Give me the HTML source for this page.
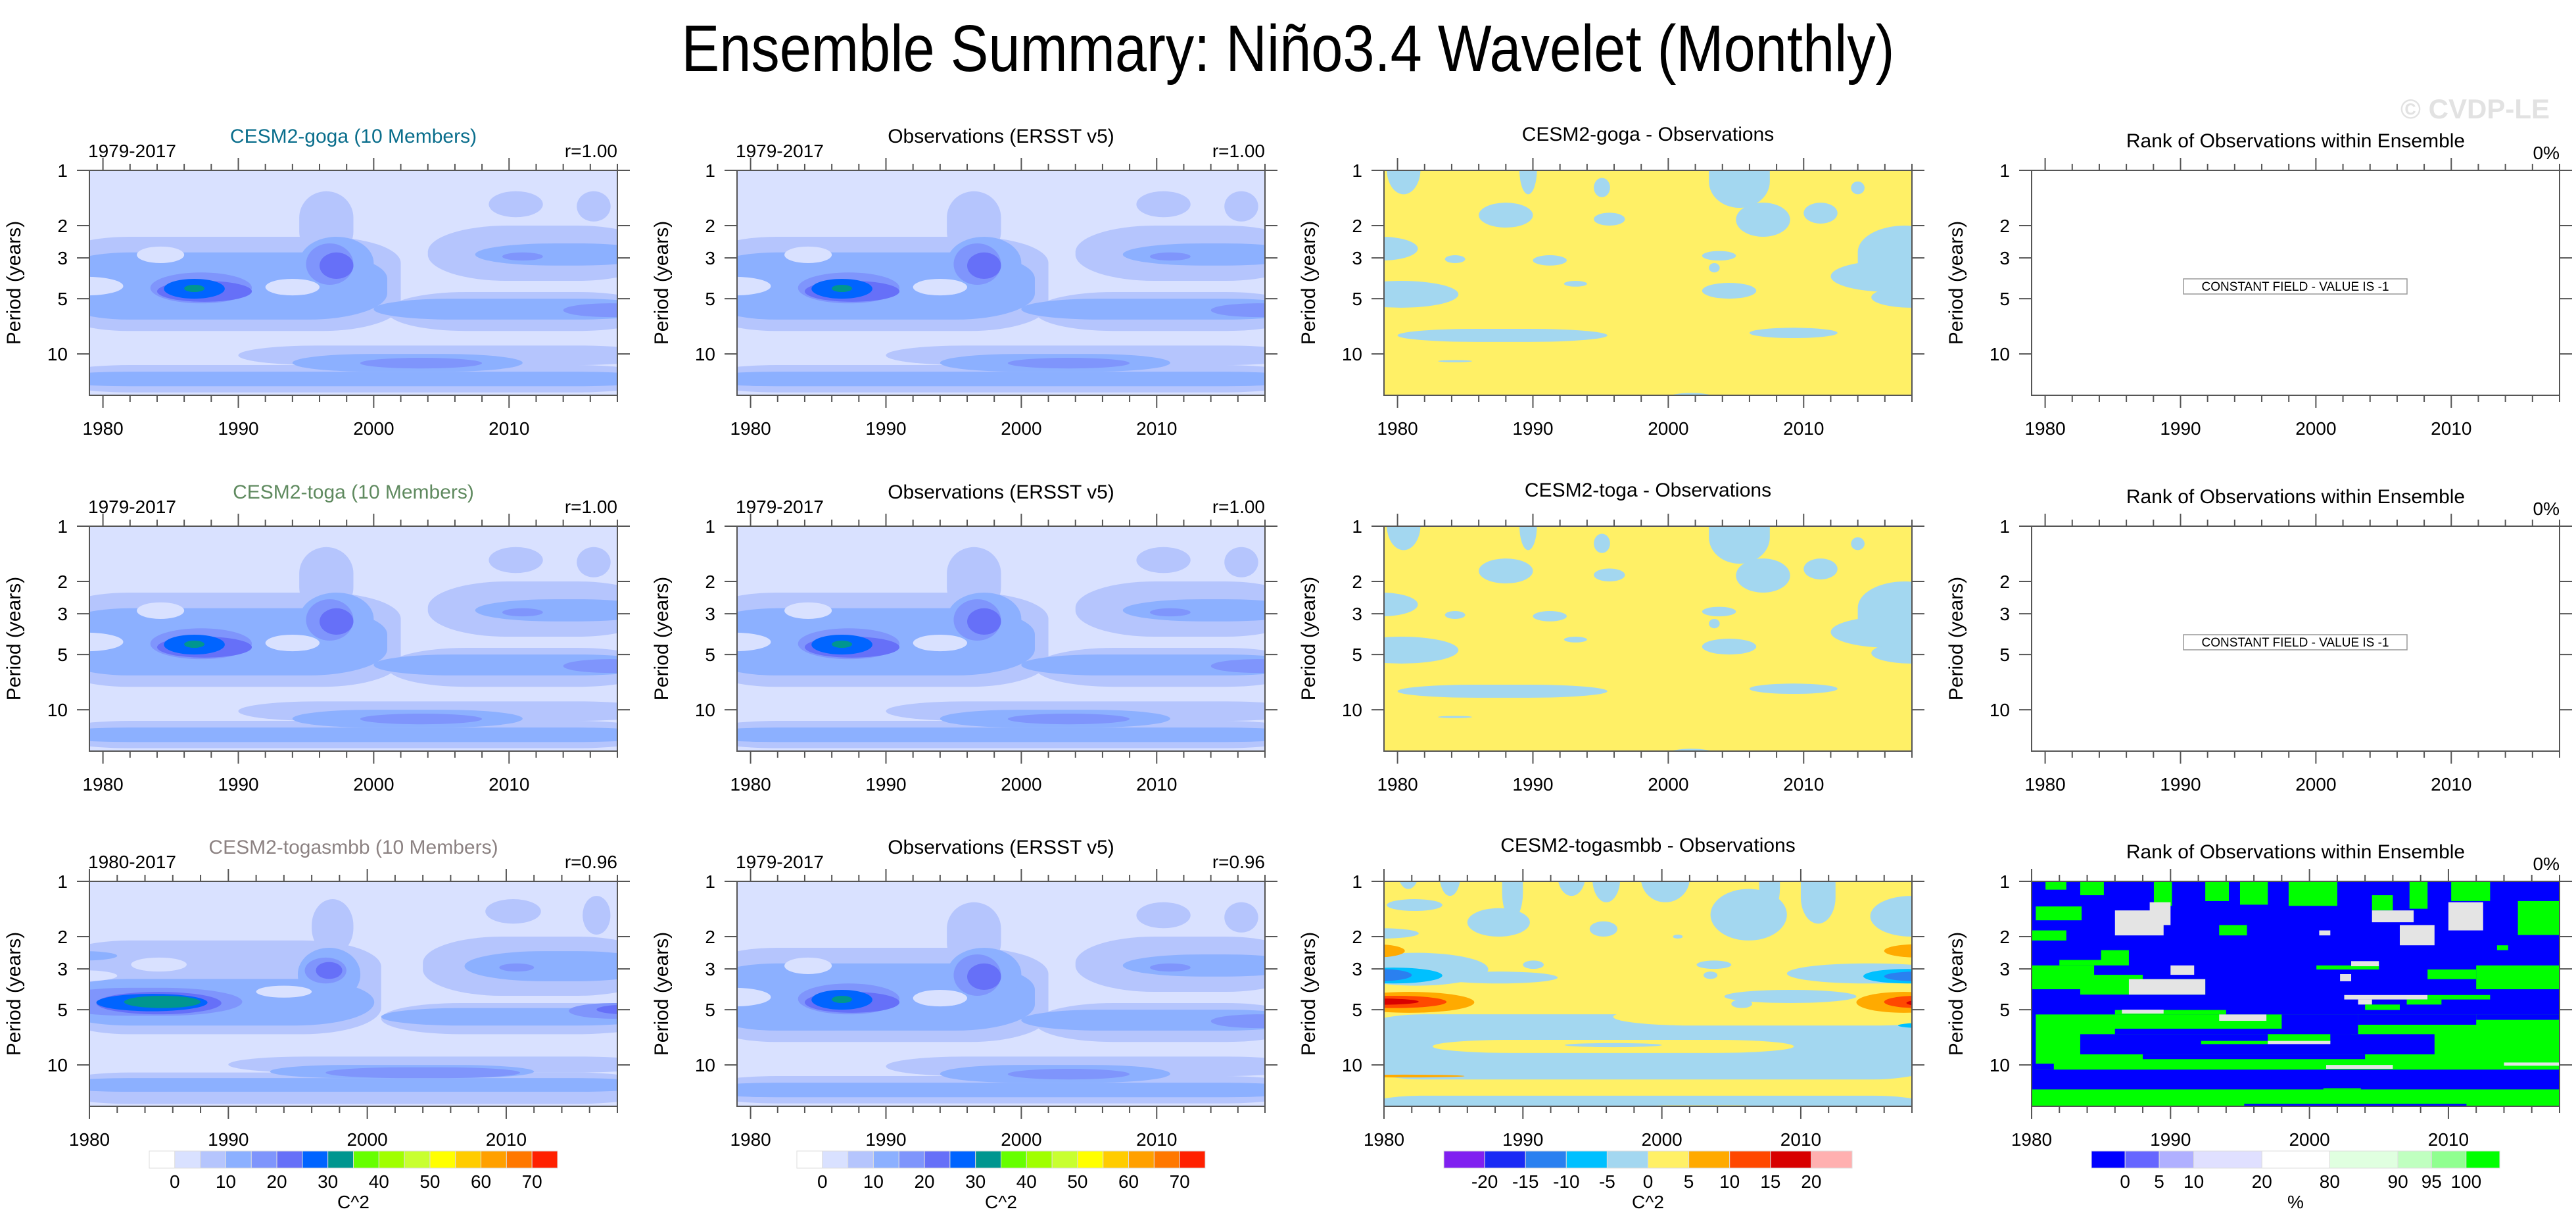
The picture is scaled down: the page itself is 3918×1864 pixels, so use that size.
<!DOCTYPE html>
<html><head><meta charset="utf-8"><title>Ensemble Summary</title>
<style>
html,body{margin:0;padding:0;background:#fff;}
svg{display:block;font-family:"Liberation Sans",sans-serif;}
</style></head>
<body>
<svg id="fig" width="3918" height="1864" viewBox="0 0 3918 1864" xmlns="http://www.w3.org/2000/svg">
<rect x="0" y="0" width="3918" height="1864" fill="#fff"/>
<text x="1959" y="108" text-anchor="middle" font-size="100" textLength="1845" lengthAdjust="spacingAndGlyphs" fill="#000">Ensemble Summary: Niño3.4 Wavelet (Monthly)</text>
<text x="3878" y="180" text-anchor="end" font-size="42" font-weight="bold" fill="#e2e2e2">© CVDP-LE</text>
</svg>
<script>
// ---------- data ----------
const yTicks = [1, 2, 3, 5, 10];
const xMajor = [1980, 1990, 2000, 2010];
const waveLevelLabels = ['0','10','20','30','40','50','60','70'];
const diffLevelLabels = ['-20','-15','-10','-5','0','5','10','15','20'];
const rankLevelLabels = ['0','5','10','20','80','90','95','100'];
const wavePal = ['#d9e1ff','#b5c5fd','#8cb0ff','#7f95fc','#6670f8','#0064ff','#00968f'];
const waveBarPal = ['#ffffff','#d9e1ff','#b5c5fd','#8cb0ff','#7f95fc','#6670f8','#0064ff','#00968f','#66ff00','#a0ff00','#c8ff30','#ffff00','#ffcc00','#ffa000','#ff7800','#ff2000'];
const diffPal = ['#8020f0','#1a2af5','#2a80f0','#00c0ff','#a3d7f0','#fff066','#ffaa00','#ff4800','#d80000','#ffb0b0'];
const rankPal = ['#0000ff','#6666ff','#b0b0ff','#e0e0ff','#ffffff','#e0ffe0','#c0ffc0','#90ff90','#00ff00'];
const rankBarWeights = [78,79,80,158,157,158,78,80,78];
// blobs: [yearStart, yearEnd, periodTop, periodBottom, level]
const obsBlobs = [
 [1979,2002,2.3,7.5,1],[1994.5,1998.5,1.3,3,1],[2004,2018,2.0,4.0,1],[2008.5,2012.5,1.3,1.8,1],
 [2015,2017.5,1.3,1.9,1],[2001,2018,4.6,7.5,1],[1990,2018,9,11.5,1],[1979,2018,11.5,16.2,1],
 [1979,2001,2.8,6.5,2],[1994.5,2000,2.3,4.5,2],[2007.5,2018,2.5,3.3,2],[2000,2018,5,6.5,2],
 [1979,2018,12.5,15,2],[1994,2011,10,12.5,2],
 [1982.5,1986,2.6,3.2,0],[1992,1996,3.9,4.8,0],[1979,1981.5,3.8,4.8,0],
 [1983.5,1991,3.6,5.3,3],[1995,1998.5,2.5,4.2,3],[2009.5,2012.5,2.8,3.1,3],[2014,2018,5.3,6.3,3],[1999,2008,10.5,12,3],
 [1984,1991,4.0,5.2,4],[1996,1998.5,2.8,3.9,4],
 [1984.5,1989,3.9,5,5],[1986,1987.5,4.2,4.6,6]
];
const togasmbbBlobs = [
 [1980,2001,2.1,6.8,1],[1996,1999,1.25,2.5,1],[2004,2018,2.0,4.2,1],[2008.5,2012.5,1.25,1.7,1],
 [2015.5,2017.5,1.2,1.95,1],[2001,2018,4.6,6.8,1],[1990,2018,9,11,1],[1980,2018,11,16.3,1],
 [1980,2000.5,3.4,6.1,2],[1980,1982,2.4,2.7,2],[1995,1999.5,2.3,4.5,2],[2007,2018,2.4,3.5,2],
 [2001,2018,4.9,6.1,2],[1980,2018,11.8,14,2],[1993,2012,10,11.8,2],
 [1983,1987,2.6,3.1,0],[1992,1996,3.7,4.3,0],[1980,1982,3.05,3.5,0],
 [1980,1991,3.8,5.4,3],[1995.5,1998.5,2.6,3.6,3],[2009.5,2012,2.8,3.1,3],[2014.5,2018,4.6,5.6,3],[1997,2011,10.3,11.8,3],
 [1980.5,1989.5,4.0,5.3,4],[1996.3,1998.2,2.75,3.4,4],[2016.5,2018,4.7,5.3,4],
 [1980.5,1988.5,4.1,5.1,5],[1982.5,1988,4.2,4.9,6]
];
const diffBlobs = [
 [1979.2,1981.7,1,1.35,4],[1989,1990.3,1,1.35,4],[1994.5,1995.7,1.1,1.4,4],[1986,1990,1.5,2.05,4],
 [1994.5,1996.8,1.7,2.0,4],[2003,2007.5,1,1.6,4],[2005,2009,1.5,2.3,4],[2010,2012.5,1.5,1.95,4],
 [2013.5,2014.5,1.15,1.35,4],[2014,2018,2.0,4.6,4],[2012,2018,3.1,4.6,4],[2015,2018,4.3,5.6,4],
 [1979,1981.5,2.3,3.1,4],[1983.5,1985,2.9,3.2,4],[1990,1992.5,2.9,3.3,4],[2002.5,2005,2.75,3.1,4],
 [2003,2003.8,3.2,3.6,4],[1992.3,1994,4.0,4.3,4],[1979,1984.5,4.0,5.6,4],[2002.5,2006.5,4.1,5.0,4],
 [1980,1995.5,7.3,8.6,4],[2006,2012.5,7.2,8.2,4],[1983,1985.5,10.8,11.1,4],[1998.7,2004.7,16.3,17.5,4]
];
const diff3Blobs = [
 [1981,1982.5,1,1.1,4],[1984,1985.5,1,1.2,4],[1988.5,1990,1,1.6,4],[1986,1990.5,1.4,2.0,4],
 [1992.5,1994.5,1,1.2,4],[1995,1997,1,1.3,4],[1998.5,2002,1,1.3,4],[2003.5,2009,1.1,2.1,4],
 [2007,2008.5,1,1.5,4],[2010,2012.5,1,1.7,4],[2015,2018,1.2,2.0,4],[1980.2,1984.2,1.25,1.45,4],
 [1980,1982.5,1.8,2.05,4],[1994.8,1996.8,1.65,2.0,4],[2000.8,2001.5,1.95,2.05,4],
 [1980,1987.5,2.45,3.7,4],[1984,1992.5,3.1,3.6,4],[1990,1991.5,2.7,3.0,4],[2002.5,2005,2.7,3.0,4],
 [2003,2004,3.1,3.4,4],[2009,2018,2.8,3.6,4],[2004.5,2014,3.9,4.6,4],[2005,2006.5,4.4,4.9,4],
 [1980,2018,5.3,12,4],[1996.5,2018,4.9,6.1,5],[1983.5,2009.5,7.3,8.6,5],[1993,2000,7.6,8.0,4],
 [1980,2018,14.7,18,4],[1995,2011,16.6,18,5],
 [1980,1986.5,4.0,5.2,6],[1980,1984.5,4.2,4.9,7],[1980,1982.5,4.35,4.7,8],
 [2014,2018,4.0,5.2,6],[2016,2018,4.2,4.9,7],[2017.6,2018,4.4,4.8,8],
 [1980,1981.5,2.2,2.6,6],[2016,2018,2.2,2.6,6],
 [1980,1984.2,2.95,3.6,3],[1980,1982,3.0,3.5,2],[2014.5,2018,3.0,3.6,3],[2016,2018,3.1,3.5,2],
 [2017,2018,5.9,6.3,3],[1980,1985.8,11.3,11.7,6]
];
// rank rects: [yearStart, yearEnd, periodTop, periodBottom, kind] kind: g=green, b=blue, w=grey
const rankRects = [
 [1980.3,2018,5.31,10.6,'g'],[1986,1994,5.02,5.31,'g'],[1998,2003.5,5.31,6.8,'b'],[2003.5,2012,5.31,6.04,'b'],
 [2012,2018,5.31,5.68,'b'],[1986,2003,6.35,6.8,'b'],[1983.5,2009,6.8,8.76,'b'],[1988,2004,8.76,9.3,'b'],
 [1992.2,1997,7.4,7.7,'g'],[1997,2001.5,6.8,7.6,'g'],[1997,2001.5,7.4,7.7,'w'],
 [1993.5,1996.9,5.31,5.75,'w'],[1986.5,1989.5,5.0,5.25,'w'],[2001.2,2006,10.0,10.5,'w'],[2014,2018,9.7,10.1,'w'],
 [1980,1981.6,9.85,10.6,'b'],[1980,2018,13.6,17.5,'g'],[2001,2003.7,13.4,13.6,'g'],[1995.3,2011.3,16.3,17.5,'b'],
 [1980,1984.5,2.87,3.41,'g'],[1980,1988,3.23,3.87,'g'],[1983.5,1992.5,3.41,4.14,'g'],[1987,1992.5,3.41,4.14,'w'],
 [1982,1987,2.68,2.87,'g'],[1985,1987,2.37,2.68,'g'],[1990,1991.7,2.87,3.23,'w'],
 [2008.5,2012,3.02,3.41,'g'],[2012,2018,2.87,3.87,'g'],[2000.5,2005,2.87,3.02,'g'],[2003,2005,2.72,2.9,'w'],
 [2002.2,2003,3.2,3.5,'w'],[2002.5,2008.5,4.16,4.4,'w'],[2008.5,2013,4.16,4.4,'g'],[2007,2009.5,4.4,4.69,'g'],
 [2003.5,2004.5,4.4,4.69,'w'],[2004,2006.5,4.69,5.02,'g'],
 [1981,1982.5,1,1.11,'g'],[1983.5,1985.2,1,1.19,'g'],[1988.8,1990.1,1,1.36,'g'],[1992.5,1994.2,1,1.28,'g'],
 [1995,1997,1,1.34,'g'],[1998.5,2002,1,1.36,'g'],[2007.2,2008.5,1,1.41,'g'],[2010.2,2013,1,1.28,'g'],
 [1980.3,1983.6,1.37,1.63,'g'],[1980,1982.5,1.85,2.1,'g'],[1986,1989.5,1.44,1.97,'w'],[1988.5,1990,1.3,1.73,'w'],
 [1993.5,1995.5,1.73,1.97,'g'],[2004.5,2006,1.19,1.44,'g'],[2004.5,2007.5,1.44,1.67,'w'],[2006.5,2009,1.73,2.23,'w'],
 [2010,2012.5,1.3,1.85,'w'],[2015,2018,1.28,1.96,'g'],[2013.5,2014.3,2.23,2.37,'g'],[2000.7,2001.5,1.85,1.97,'w']
];
const rowLeftTitles = ['CESM2-goga (10 Members)','CESM2-toga (10 Members)','CESM2-togasmbb (10 Members)'];
const rowTitleColors = ['#0a6e8c','#5f8a5f','#8c8282'];
const rowPeriods = ['1979-2017','1979-2017','1980-2017'];
const rowR = ['r=1.00','r=1.00','r=0.96'];
const diffTitles = ['CESM2-goga - Observations','CESM2-toga - Observations','CESM2-togasmbb - Observations'];

// ---------- layout ----------
const NS='http://www.w3.org/2000/svg';
const svg=document.getElementById('fig');
const L=[136,1121,2105,3090], T=[259,800,1340], W=803, H=342, PMAX=16.8;
function el(tag, parent){ const e=document.createElementNS(NS,tag); (parent||svg).appendChild(e); return e; }
function txt(x,y,s,size,anchor,fill,name,parent){
  const t=el('text',parent);
  t.setAttribute('x',x); t.setAttribute('y',y); t.setAttribute('font-size',size);
  t.setAttribute('text-anchor',anchor); t.setAttribute('fill',fill);
  t.textContent=s;
  
  
  return t;
}
function xScale(col,y0){ return yr => L[col] + (yr-y0)/(2018-y0)*W; }
function yScale(row){ return p => T[row] + Math.log10(p)/Math.log10(PMAX)*H; }

function drawBlobs(g, blobs, xs, ys, pal, y0, round){
  blobs.forEach(b=>{
    let x1=xs(b[0]), x2=xs(b[1]), y1=ys(b[2]), y2=ys(b[3]);
    if(b[0]<=y0) x1-=60; if(b[1]>=2018) x2+=60;
    if(b[2]<=1) y1-=40; if(b[3]>=PMAX) y2+=40;
    const r=el('rect',g);
    r.setAttribute('x',x1); r.setAttribute('y',y1);
    r.setAttribute('width',Math.max(1,x2-x1)); r.setAttribute('height',Math.max(1,y2-y1));
    if(round){ r.setAttribute('rx',Math.min((x2-x1)/2,120)); r.setAttribute('ry',Math.min((y2-y1)/2,40)); }
    r.setAttribute('fill', pal[b[4]]);
    
    
  });
}

function panel(col,row,kind){
  const y0 = (row===2 && col!==1) ? 1980 : 1979;
  const xs=xScale(col,y0), ys=yScale(row);
  const cid='clip'+col+row;
  const cp=el('clipPath'); cp.setAttribute('id',cid);
  const cr=el('rect',cp); cr.setAttribute('x',L[col]); cr.setAttribute('y',T[row]); cr.setAttribute('width',W); cr.setAttribute('height',H);
  const g=el('g'); g.setAttribute('clip-path','url(#'+cid+')');
  
  
  const bg=el('rect',g); bg.setAttribute('x',L[col]); bg.setAttribute('y',T[row]); bg.setAttribute('width',W); bg.setAttribute('height',H);
  
  
  if(kind==='wave'||kind==='wave3'){
    bg.setAttribute('fill',wavePal[0]);
    drawBlobs(g, kind==='wave3'?togasmbbBlobs:obsBlobs, xs, ys, wavePal, y0, true);
  } else if(kind==='diff'||kind==='diff3'){
    bg.setAttribute('fill',diffPal[5]);
    drawBlobs(g, kind==='diff3'?diff3Blobs:diffBlobs, xs, ys, diffPal, y0, true);
  } else if(kind==='rank3'){
    bg.setAttribute('fill',rankPal[0]);
    drawBlobs(g, rankRects, xs, ys, {g:rankPal[8],b:rankPal[0],w:'#e4e4e4'}, y0, false);
  } else {
    bg.setAttribute('fill','#fff');
    const bx=el('rect'); bx.setAttribute('x',L[col]+231); bx.setAttribute('y',T[row]+165); bx.setAttribute('width',340); bx.setAttribute('height',23);
    bx.setAttribute('fill','#fff'); bx.setAttribute('stroke','#999'); bx.setAttribute('stroke-width','1.5');
    
    
    txt(L[col]+401, T[row]+183, 'CONSTANT FIELD - VALUE IS -1', 19, 'middle', '#000', 'constant-field-label');
  }
  const fr=el('rect'); fr.setAttribute('x',L[col]); fr.setAttribute('y',T[row]); fr.setAttribute('width',W); fr.setAttribute('height',H);
  fr.setAttribute('fill','none'); fr.setAttribute('stroke','#555'); fr.setAttribute('stroke-width','2');
  
  
  const tg=el('g'); tg.setAttribute('stroke','#555'); tg.setAttribute('stroke-width','2');
  
  
  for(let yr=1980; yr<=2018; yr+=2){
    const major = yr%10===0, len = major?19:10, x=xs(yr);
    if(x>L[col]+W+1) continue;
    [[T[row],T[row]-len],[T[row]+H,T[row]+H+len]].forEach(s=>{
      const ln=el('line',tg); ln.setAttribute('x1',x); ln.setAttribute('x2',x); ln.setAttribute('y1',s[0]); ln.setAttribute('y2',s[1]);
    });
  }
  yTicks.forEach(p=>{
    const y=ys(p);
    [[L[col],L[col]-19],[L[col]+W,L[col]+W+19]].forEach(s=>{
      const ln=el('line',tg); ln.setAttribute('x1',s[0]); ln.setAttribute('x2',s[1]); ln.setAttribute('y1',y); ln.setAttribute('y2',y);
    });
    txt(L[col]-33, y+10, String(p), 28, 'end', '#000', 'y-tick-label');
  });
  xMajor.forEach(yr=>{ txt(xs(yr), T[row]+H+60, String(yr), 28, 'middle', '#000', 'x-tick-label'); });
  const yt=txt(0,0,'Period (years)',30,'middle','#000','y-axis-title');
  yt.setAttribute('transform','translate('+(L[col]-105)+','+(T[row]+H/2)+') rotate(-90)');
}

function colorbar(col,row,pal,labels,weights,unit,labelStart){
  const x0=L[col]+91, total=621, y=T[row]+H+68, h=26;
  const sum=weights.reduce((a,b)=>a+b,0);
  let x=x0; const bounds=[];
  pal.forEach((c,i)=>{
    const w=weights[i]/sum*total;
    const r=el('rect'); r.setAttribute('x',x); r.setAttribute('y',y); r.setAttribute('width',w); r.setAttribute('height',h);
    r.setAttribute('fill',c); r.setAttribute('stroke','#ddd'); r.setAttribute('stroke-width','1');
    
    
    x+=w; bounds.push(x);
  });
  labels.forEach((s,i)=>{ txt(bounds[i*(labelStart.step)+labelStart.first], y+h+30, s, 28, 'middle', '#000', 'colorbar-label'); });
  txt(x0+total/2, y+h+61, unit, 28, 'middle', '#000', 'colorbar-unit');
}

for(let row=0; row<3; row++){
  panel(0,row, row===2?'wave3':'wave');
  panel(1,row,'wave');
  panel(2,row, row===2?'diff3':'diff');
  panel(3,row, row===2?'rank3':'empty');
  const tb=T[row];
  txt(L[0]-2, tb-20, rowPeriods[row], 28, 'start', '#000', 'period-label');
  txt(L[0]+W/2, tb-42, rowLeftTitles[row], 30, 'middle', rowTitleColors[row], 'ensemble-title');
  txt(L[0]+W, tb-20, rowR[row], 28, 'end', '#000', 'correlation-label');
  txt(L[1]-2, tb-20, '1979-2017', 28, 'start', '#000', 'period-label');
  txt(L[1]+W/2, tb-42, 'Observations (ERSST v5)', 30, 'middle', '#000', 'observations-title');
  txt(L[1]+W, tb-20, rowR[row], 28, 'end', '#000', 'correlation-label');
  txt(L[2]+W/2, tb-45, diffTitles[row], 30, 'middle', '#000', 'difference-title');
  txt(L[3]+W/2, tb-35, 'Rank of Observations within Ensemble', 30, 'middle', '#000', 'rank-title');
  txt(L[3]+W, tb-17, '0%', 28, 'end', '#000', 'rank-percent');
}
colorbar(0,2,waveBarPal,waveLevelLabels,waveBarPal.map(()=>1),'C^2',{first:0,step:2});
colorbar(1,2,waveBarPal,waveLevelLabels,waveBarPal.map(()=>1),'C^2',{first:0,step:2});
colorbar(2,2,diffPal,diffLevelLabels,diffPal.map(()=>1),'C^2',{first:0,step:1});
colorbar(3,2,rankPal,rankLevelLabels,rankBarWeights,'%',{first:0,step:1});
</script>
</body></html>
